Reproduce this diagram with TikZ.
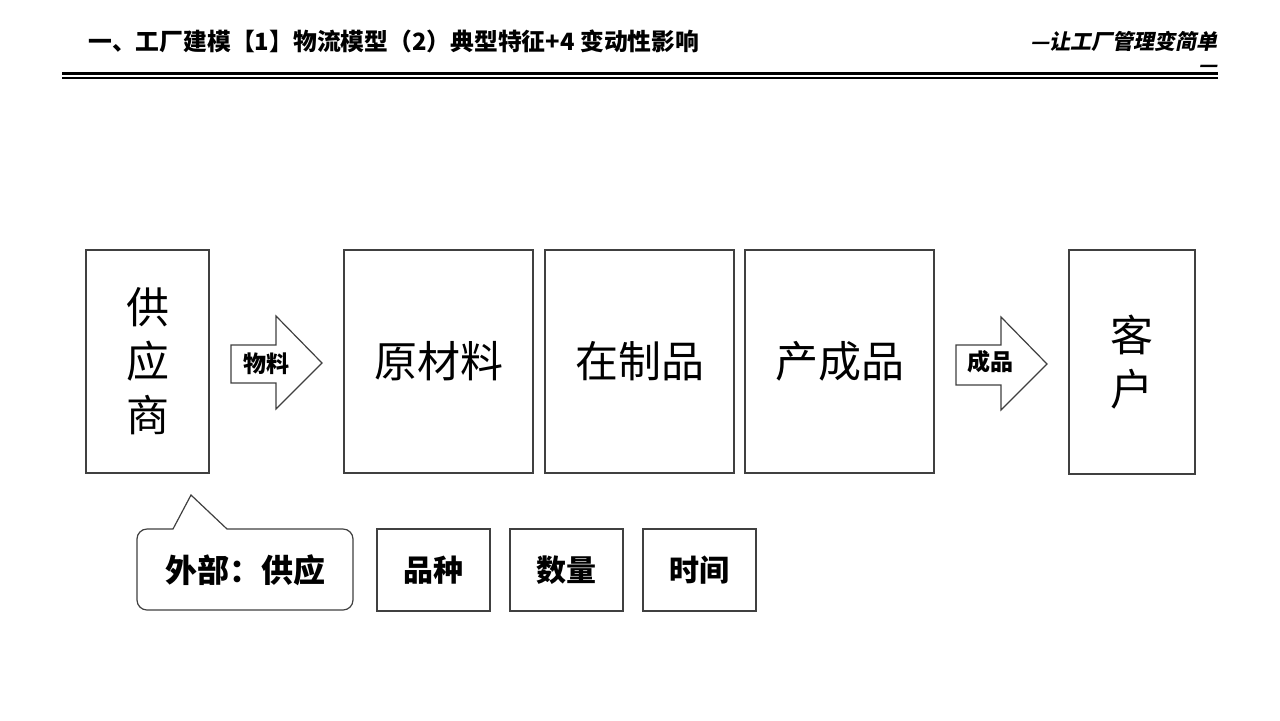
\documentclass[tikz,border=0pt]{standalone}
\usepackage{fontspec}
\setmainfont{Noto Sans CJK SC}
\newfontfamily\slantcjk{Noto Sans CJK SC}[FakeSlant=0.2]
\begin{document}
\begin{tikzpicture}[x=0.5pt,y=-0.5pt,
  frame/.style={draw=black!75,line width=0.6pt},
  bigbox/.style={frame,rectangle,inner sep=0pt,minimum height=111.5pt,font=\fontsize{21.5}{27}\selectfont,align=center},
  smallbox/.style={frame,rectangle,inner sep=0pt,minimum width=56.5pt,minimum height=41pt,font=\fontsize{15}{18}\selectfont\bfseries},
  arrowtxt/.style={inner sep=0pt,font=\fontsize{11.5}{14}\selectfont\bfseries},
  hdr/.style={inner sep=0pt,font=\fontsize{11.9}{14}\selectfont\bfseries}]
\useasboundingbox (0,0) rectangle (1280,720);
\fill[white] (0,0) rectangle (1280,720);
% header
\node[hdr,anchor=west] (title) at (88,41) {一、工厂建模【1】物流模型（2）典型特征+4 变动性影响};
\node[inner sep=0pt,anchor=east,font=\fontsize{10.5}{13}\selectfont\slantcjk\bfseries] (slogan) at (1218,41) {—让工厂管理变简单};
\node[inner sep=0pt,anchor=east,font=\fontsize{10.5}{13}\selectfont\slantcjk\bfseries] (slogan2) at (1218,69) {—};
\coordinate (l1a) at (62,73.5); \coordinate (l1b) at (1218,73.5);
\coordinate (l2a) at (62,78); \coordinate (l2b) at (1218,78);
\draw[line width=1.1pt] (l1a) -- (l1b);
\draw[line width=0.6pt] (l2a) -- (l2b);
% main boxes
\node[bigbox,minimum width=61.5pt] (sup) at (147.5,361.5) {供\\应\\商};
\node[bigbox,minimum width=94.5pt] (raw) at (438.5,361.5) {原材料};
\node[bigbox,minimum width=94.5pt] (wip) at (639.5,361.5) {在制品};
\node[bigbox,minimum width=94.5pt] (fin) at (839.5,361.5) {产成品};
\node[bigbox,minimum width=63pt,minimum height=112pt] (cus) at (1132,362) {客\\户};
% block arrows
\draw[frame,fill=white] (231,345) -- (276,345) -- (276,316) -- (322,363) -- (276,409) -- (276,383) -- (231,383) -- cycle;
\node[arrowtxt] (a1) at (266,364) {物料};
\draw[frame,fill=white] (956,345) -- (1001,345) -- (1001,317) -- (1047,364) -- (1001,410) -- (1001,385) -- (956,385) -- cycle;
\node[arrowtxt] (a2) at (990,362) {成品};
% callout
\draw[frame] (191,495) -- (227,529) [rounded corners=5pt] -- (353,529) -- (353,610) -- (137,610) -- (137,529) [sharp corners] -- (173,529) -- cycle;
\node[inner sep=0pt,font=\fontsize{16}{19}\selectfont\bfseries] (ext) at (245,570) {外部：供应};
% attribute boxes
\node[smallbox] (kind) at (433.5,570) {品种};
\node[smallbox] (qty) at (566.5,570) {数量};
\node[smallbox] (time) at (699.5,570) {时间};
\end{tikzpicture}
\end{document}
